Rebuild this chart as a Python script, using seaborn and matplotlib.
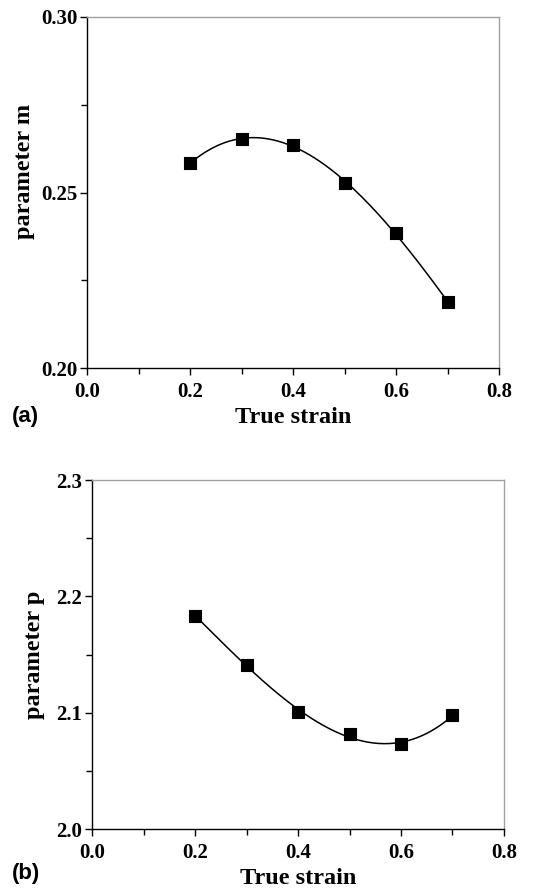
import numpy as np
import pandas as pd
import matplotlib
matplotlib.use("Agg")
import matplotlib.pyplot as plt
import seaborn as sns
from matplotlib.ticker import MultipleLocator

strain = [0.2, 0.3, 0.4, 0.5, 0.6, 0.7]
param_m = [0.2583, 0.2653, 0.2635, 0.2528, 0.2384, 0.2189]
param_p = [2.1835, 2.1409, 2.1008, 2.0819, 2.0727, 2.0979]

sns.set_style("ticks", {"text.color": "black", "axes.labelcolor": "black",
                        "xtick.color": "black", "ytick.color": "black"})
plt.rcParams['font.family'] = ['Liberation Serif', 'DejaVu Serif']

fig = plt.figure(figsize=(5.48, 8.9), dpi=100)
ax1 = fig.add_axes([0.1588, 0.5865, 0.7518, 0.3944])
ax2 = fig.add_axes([0.1679, 0.0685, 0.7518, 0.3921])

def panel(ax, y, ylim, ymaj, ymin, ylabel, fmt, tag, tagy, xpad, ypad, ylab_pos):
    df = pd.DataFrame({"strain": strain, "val": y})
    coef = np.polyfit(strain, y, 3)
    xs = np.linspace(min(strain), max(strain), 200)
    fit = pd.DataFrame({"strain": xs, "val": np.polyval(coef, xs)})
    sns.lineplot(data=fit, x="strain", y="val", ax=ax, color="black", lw=1.1)
    sns.scatterplot(data=df, x="strain", y="val", ax=ax, marker="s", s=80,
                    color="black", edgecolor="black", linewidth=0.8, zorder=5)
    ax.set_xlim(0.0, 0.8)
    ax.set_ylim(*ylim)
    ax.xaxis.set_major_locator(MultipleLocator(0.2))
    ax.xaxis.set_minor_locator(MultipleLocator(0.1))
    ax.yaxis.set_major_locator(MultipleLocator(ymaj))
    ax.yaxis.set_minor_locator(MultipleLocator(ymin))
    ax.set_xticks(ax.get_xticks())
    ax.set_xticklabels([f"{v:.1f}" for v in ax.get_xticks()])
    ax.set_yticks(ax.get_yticks())
    ax.set_yticklabels([fmt.format(v) for v in ax.get_yticks()])
    ax.set_xlim(0.0, 0.8)
    ax.set_ylim(*ylim)
    ax.tick_params(axis="both", which="major", direction="out", length=5, width=1,
                   labelsize=15, colors="black")
    ax.tick_params(axis="x", which="major", pad=5)
    ax.tick_params(axis="y", which="major", pad=2)
    ax.tick_params(axis="both", which="minor", direction="out", length=4, width=1,
                   colors="black")
    for lab in ax.get_xticklabels() + ax.get_yticklabels():
        lab.set_fontweight("bold")
    for s in ["left", "bottom"]:
        ax.spines[s].set_color("black")
        ax.spines[s].set_linewidth(1.0)
    for s in ["top", "right"]:
        ax.spines[s].set_visible(True)
        ax.spines[s].set_color("#a0a0a0")
        ax.spines[s].set_linewidth(1.0)
    ax.set_xlabel("True strain", fontsize=17.5, fontweight="bold", labelpad=xpad,
                  color="black")
    ax.set_ylabel(ylabel, fontsize=17.5, fontweight="bold", labelpad=ypad,
                  color="black")
    ax.yaxis.label.set_y(ylab_pos)
    fig.text(0.022, tagy, tag, fontsize=16, fontweight="bold", color="black",
             family=["Liberation Sans", "DejaVu Sans"], va="center", ha="left")

panel(ax1, param_m, (0.20, 0.30), 0.05, 0.025, "parameter m", "{:.2f}", "(a)",
      1 - 416 / 890, 4, 4, 0.561)
panel(ax2, param_p, (2.0, 2.3), 0.1, 0.05, "parameter p", "{:.1f}", "(b)",
      1 - 874 / 890, 4, 8, 0.5)

fig.savefig("out.png", dpi=100, facecolor="white")
